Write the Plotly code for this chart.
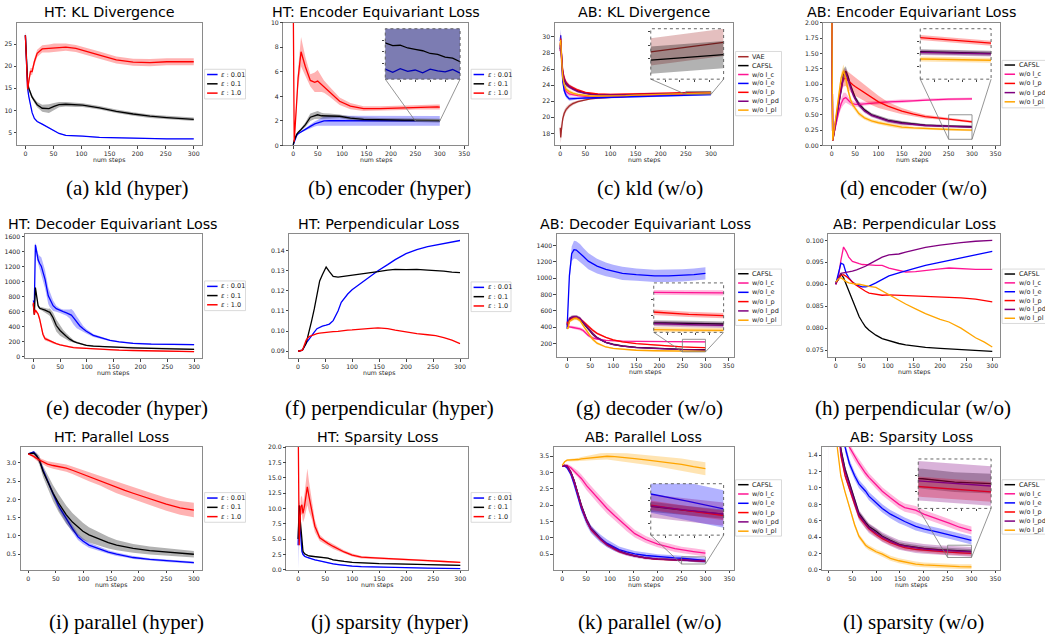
import numpy as np
import plotly.graph_objects as go

W, H = 1045, 641

# ---------------- colours ----------------
BLUE = '#0000ff'; BLACK = '#000000'; RED = '#ff0000'
PINK = '#ff1493'; PURPLE = '#800080'; ORANGE = '#ffa500'; BROWN = '#a52a2a'

# ---------------- text ----------------
TITLES = ["HT: KL Divergence", "HT: Encoder Equivariant Loss", "AB: KL Divergence", "AB: Encoder Equivariant Loss",
          "HT: Decoder Equivariant Loss", "HT: Perpendicular Loss", "AB: Decoder Equivariant Loss", "AB: Perpendicular Loss",
          "HT: Parallel Loss", "HT: Sparsity Loss", "AB: Parallel Loss", "AB: Sparsity Loss"]
CAPTIONS = ["(a) kld (hyper)", "(b) encoder (hyper)", "(c) kld (w/o)", "(d) encoder (w/o)",
            "(e) decoder (hyper)", "(f) perpendicular (hyper)", "(g) decoder (w/o)", "(h) perpendicular (w/o)",
            "(i) parallel (hyper)", "(j) sparsity (hyper)", "(k) parallel (w/o)", "(l) sparsity (w/o)"]
HT_LABELS = ["<i>ε</i> : 0.01", "<i>ε</i> : 0.1", "<i>ε</i> : 1.0"]
AB_LABELS = ["CAFSL", "w/o l_c", "w/o l_e", "w/o l_p", "w/o l_pd", "w/o l_pl"]
X_LABEL = "num steps"

# ---------------- tick labels ----------------
XT300 = [0, 50, 100, 150, 200, 250, 300]
XT350 = [0, 50, 100, 150, 200, 250, 300, 350]
A_YT = [5, 10, 15, 20, 25]
B_YT = [0, 2, 4, 6, 8, 10]
C_YT = [18, 20, 22, 24, 26, 28, 30]
D_YT = [0.0, 0.25, 0.5, 0.75, 1.0, 1.25, 1.5, 1.75, 2.0]
E_YT = [0, 200, 400, 600, 800, 1000, 1200, 1400, 1600]
F_YT = [0.09, 0.10, 0.11, 0.12, 0.13, 0.14]
G_YT = [200, 400, 600, 800, 1000, 1200, 1400]
H_YT = [0.075, 0.080, 0.085, 0.090, 0.095, 0.100]
I_YT = [0.5, 1.0, 1.5, 2.0, 2.5, 3.0]
J_YT = [0.0, 2.5, 5.0, 7.5, 10.0, 12.5, 15.0, 17.5, 20.0]
K_YT = [0.5, 1.0, 1.5, 2.0, 2.5, 3.0, 3.5]
L_YT = [0.0, 0.2, 0.4, 0.6, 0.8, 1.0, 1.2, 1.4]
INSET_XT = [260, 270, 280, 290]

# ---------------- data ----------------
# (a) HT KL divergence
A_STEPS = [0, 2, 4, 6, 9, 12, 16, 21, 30, 42, 51, 60, 72, 90, 102, 132, 162, 192, 222, 252, 300]
A_EPS001 = [27.0, 19.0, 15.0, 13.2, 11.0, 9.5, 8.2, 7.5, 6.9, 6.1, 5.4, 4.8, 4.35, 4.3, 4.2, 3.9, 3.8, 3.7, 3.65, 3.6, 3.6]
A_EPS001_SD = [0.8, 0.5, 0.3, 0.2, 0.15, 0.1, 0.1, 0.1, 0.1, 0.1, 0.1, 0.1, 0.1, 0.1, 0.1, 0.1, 0.1, 0.1, 0.1, 0.1, 0.1]
A_EPS01 = [27.0, 20.0, 16.5, 15.0, 13.9, 13.0, 12.2, 11.3, 10.5, 10.4, 10.9, 11.3, 11.4, 11.3, 11.2, 10.6, 9.8, 9.2, 8.7, 8.4, 8.0]
A_EPS01_SD = [0.8, 0.6, 0.5, 0.5, 0.5, 0.5, 0.5, 0.6, 0.8, 1.0, 0.8, 0.6, 0.5, 0.5, 0.4, 0.4, 0.4, 0.4, 0.4, 0.4, 0.4]
A_EPS1 = [27.0, 20.0, 14.8, 16.5, 18.8, 18.8, 21.0, 22.9, 23.9, 24.0, 24.1, 24.2, 24.3, 24.0, 23.6, 22.5, 21.4, 20.9, 20.8, 21.0, 21.0]
A_EPS1_SD = [1.0, 1.0, 0.8, 0.8, 0.8, 0.8, 0.8, 0.8, 0.8, 0.9, 1.0, 0.9, 0.8, 0.8, 0.8, 0.8, 0.8, 0.8, 0.8, 0.8, 0.8]

# (b) HT encoder equivariant loss
B_STEPS = [0, 2, 7, 10, 16, 20, 25, 35, 44, 50, 58, 63, 74, 95, 117, 144, 178, 228, 250, 255,
           260, 265, 270, 275, 280, 285, 290, 295, 300]
B_EPS001 = [0.05, 0.3, 0.8, 0.95, 1.1, 1.2, 1.35, 1.55, 1.75, 1.85, 1.95, 2.0, 2.02, 2.02, 2.02, 2.015, 2.012, 2.01,
            2.012, 2.005, 2.013, 2.007, 2.01, 2.004, 2.012, 2.008, 2.006, 2.011, 2.003]
B_EPS001_SD = [0, 0.05, 0.05, 0.05, 0.05, 0.08, 0.1, 0.15, 0.2, 0.25, 0.3, 0.35, 0.4, 0.4, 0.4, 0.4, 0.4, 0.4,
               0.4, 0.4, 0.4, 0.4, 0.4, 0.4, 0.4, 0.4, 0.4, 0.4, 0.4]
B_EPS01 = [0.05, 0.4, 0.9, 1.07, 1.3, 1.47, 1.7, 2.3, 2.45, 2.5, 2.42, 2.4, 2.4, 2.38, 2.22, 2.12, 2.08, 2.07,
           2.069, 2.063, 2.064, 2.058, 2.055, 2.052, 2.046, 2.044, 2.038, 2.036, 2.028]
B_EPS01_SD = [0, 0.05, 0.05, 0.08, 0.1, 0.12, 0.2, 0.3, 0.3, 0.3, 0.25, 0.22, 0.2, 0.15, 0.15, 0.15, 0.15, 0.15,
              0.15, 0.15, 0.15, 0.15, 0.15, 0.15, 0.15, 0.15, 0.15, 0.15, 0.15]
B_EPS1 = [12.0, 0.3, 3.5, 5.5, 7.64, 7.0, 6.4, 5.3, 5.15, 5.25, 4.95, 4.8, 4.4, 3.6, 3.2, 3.0, 3.0, 3.08,
          3.12, 3.13, 3.14, 3.15, 3.15, 3.16, 3.15, 3.15, 3.14, 3.14, 3.13]
B_EPS1_SD = [0, 0.2, 0.5, 0.8, 1.2, 1.0, 0.8, 0.5, 0.8, 0.9, 0.6, 0.5, 0.4, 0.3, 0.25, 0.2, 0.2, 0.2,
             0.2, 0.2, 0.2, 0.2, 0.2, 0.2, 0.2, 0.2, 0.2, 0.2, 0.2]

# (c) AB KL divergence
C_STEPS = [0, 1, 3, 5, 8, 12, 18, 25, 35, 50, 60, 75, 100, 130, 150, 200, 250, 300]
C_VAE = [18.7, 17.5, 18.8, 19.8, 20.5, 21.0, 21.4, 21.7, 21.95, 22.2, 22.3, 22.4, 22.5, 22.6, 22.65, 22.85, 23.05, 23.12]
C_CAFSL = [28.5, 29.5, 27.0, 25.5, 24.6, 24.1, 23.8, 23.6, 23.3, 23.0, 22.9, 22.8, 22.75, 22.8, 22.83, 22.9, 22.99, 23.03]
C_WO_LC = [28.2, 29.0, 26.5, 24.8, 23.8, 23.2, 22.9, 22.8, 22.7, 22.6, 22.55, 22.55, 22.55, 22.6, 22.65, 22.75, 22.85, 22.95]
C_WO_LE = [29.5, 30.2, 27.0, 24.5, 23.3, 22.7, 22.3, 22.3, 22.35, 22.4, 22.42, 22.45, 22.5, 22.55, 22.6, 22.68, 22.75, 22.82]
C_WO_LP = [28.8, 29.8, 27.5, 25.8, 24.9, 24.3, 23.9, 23.65, 23.4, 23.1, 23.0, 22.9, 22.85, 22.88, 22.92, 23.0, 23.08, 23.14]
C_WO_LPD = [28.3, 29.2, 27.3, 25.6, 24.7, 24.2, 23.8, 23.5, 23.2, 22.95, 22.85, 22.8, 22.75, 22.78, 22.82, 22.9, 22.98, 23.05]
C_WO_LPL = [29.0, 29.6, 27.0, 25.0, 24.0, 23.5, 23.2, 23.0, 22.85, 22.7, 22.65, 22.65, 22.65, 22.7, 22.75, 22.85, 22.95, 23.05]
C_SD = [0.6, 0.8, 0.6, 0.5, 0.4, 0.3, 0.25, 0.2, 0.15, 0.12, 0.1, 0.1, 0.1, 0.1, 0.1, 0.1, 0.1, 0.1]

# (d) AB encoder equivariant loss
D_STEPS = [0, 2, 5, 10, 15, 20, 25, 30, 35, 40, 45, 50, 58, 70, 85, 100, 120, 150, 175, 200, 250, 300]
D_CAFSL = [2.5, 0.08, 0.2, 0.45, 0.7, 0.95, 1.15, 1.21, 1.12, 0.98, 0.86, 0.78, 0.68, 0.58, 0.5, 0.46, 0.41, 0.37, 0.35, 0.33, 0.315, 0.305]
D_WO_LC = [2.5, 0.08, 0.2, 0.38, 0.55, 0.68, 0.76, 0.78, 0.74, 0.7, 0.68, 0.67, 0.67, 0.68, 0.69, 0.7, 0.71, 0.72, 0.73, 0.745, 0.755, 0.76]
D_WO_LP = [2.5, 0.08, 0.25, 0.5, 0.75, 0.95, 1.08, 1.1, 1.06, 1.02, 0.99, 0.96, 0.92, 0.86, 0.78, 0.71, 0.64, 0.56, 0.51, 0.47, 0.43, 0.385]
D_WO_LPD = [2.5, 0.08, 0.2, 0.45, 0.7, 0.93, 1.12, 1.18, 1.08, 0.95, 0.84, 0.76, 0.66, 0.56, 0.49, 0.45, 0.40, 0.36, 0.34, 0.325, 0.31, 0.30]
D_WO_LPL = [2.5, 0.08, 0.25, 0.55, 0.85, 1.1, 1.22, 1.1, 0.9, 0.75, 0.66, 0.6, 0.52, 0.45, 0.4, 0.37, 0.34, 0.3, 0.285, 0.275, 0.26, 0.25]
D_SD_LP = [0, 0, 0.02, 0.05, 0.08, 0.1, 0.12, 0.13, 0.14, 0.15, 0.15, 0.15, 0.15, 0.14, 0.12, 0.1, 0.07, 0.05, 0.04, 0.03, 0.02, 0.02]
D_SD = [0, 0, 0.02, 0.04, 0.06, 0.08, 0.1, 0.08, 0.06, 0.05, 0.05, 0.04, 0.04, 0.03, 0.03, 0.03, 0.03, 0.03, 0.02, 0.02, 0.02, 0.02]

# (e) HT decoder equivariant loss
E_STEPS = [0, 2, 4, 7, 9, 12, 15, 18, 22, 28, 31, 37, 43, 50, 56, 62, 68, 71, 75, 81, 87, 93, 99, 112, 130, 143,
           160, 186, 220, 248, 300]
E_EPS001 = [750, 700, 1490, 1350, 1290, 1240, 1205, 1130, 1030, 811, 760, 680, 640, 614, 600, 585, 570, 555, 520, 460,
            410, 373, 340, 285, 245, 219, 200, 180, 170, 165, 162]
E_EPS001_SD = [0, 0, 30, 60, 80, 100, 120, 120, 120, 110, 100, 70, 40, 30, 30, 40, 60, 80, 90, 80, 60, 40, 30, 20, 15,
               10, 10, 10, 10, 10, 10]
E_EPS01 = [700, 560, 920, 760, 680, 645, 640, 632, 620, 600, 592, 520, 416, 350, 307, 270, 235, 219, 205, 190, 175,
           165, 153, 143, 135, 131, 127, 120, 112, 106, 100]
E_EPS01_SD = [0, 0, 20, 20, 20, 20, 20, 20, 30, 40, 50, 70, 80, 70, 50, 40, 30, 25, 20, 15, 10, 10, 10, 10, 10, 10,
              10, 10, 10, 10, 10]
E_EPS1 = [720, 560, 620, 590, 570, 500, 400, 300, 241, 220, 210, 190, 175, 160, 150, 140, 130, 126, 123, 120, 117, 114,
          110, 105, 98, 92, 88, 84, 78, 73, 68]
E_EPS1_SD = [0, 0, 20, 20, 20, 25, 30, 30, 25, 20, 15, 15, 10, 10, 10, 10, 10, 10, 10, 10, 10, 10, 10, 10, 8, 8, 8,
             8, 8, 8, 8]

# (f) HT perpendicular loss
F_STEPS = [0, 8, 15, 20, 25, 30, 35, 40, 45, 52, 58, 65, 74, 80, 92, 100, 117, 135, 148, 166, 180, 200, 220, 240,
           255, 270, 285, 300]
F_EPS001 = [0.09, 0.0905, 0.094, 0.096, 0.098, 0.0995, 0.1012, 0.102, 0.1025, 0.103, 0.1035, 0.1052, 0.11, 0.1143,
            0.1184, 0.1205, 0.124, 0.1275, 0.130, 0.133, 0.1355, 0.1385, 0.1405, 0.142, 0.1428, 0.1437, 0.1444, 0.145]
F_EPS01 = [0.09, 0.0905, 0.094, 0.099, 0.105, 0.111, 0.118, 0.1249, 0.128, 0.1318, 0.1295, 0.1272, 0.1268, 0.127,
           0.1275, 0.128, 0.1285, 0.129, 0.1295, 0.1303, 0.1307, 0.1305, 0.1307, 0.1303, 0.1302, 0.1298, 0.1293, 0.129]
F_EPS1 = [0.09, 0.0905, 0.0955, 0.0972, 0.0978, 0.0985, 0.0988, 0.099, 0.0992, 0.0994, 0.0995, 0.0997, 0.0999,
          0.1002, 0.1005, 0.1006, 0.1011, 0.1014, 0.1016, 0.1012, 0.1005, 0.0995, 0.0988, 0.0982, 0.0978, 0.0968,
          0.0955, 0.0938]

# (g) AB decoder equivariant loss
G_STEPS = [0, 2, 5, 10, 15, 20, 28, 35, 46, 55, 65, 84, 100, 120, 150, 190, 220, 250, 275, 300]
G_CAFSL = [450, 420, 500, 520, 525, 528, 505, 450, 380, 320, 270, 215, 190, 170, 152, 140, 134, 128, 126, 124]
G_WO_LC = [410, 405, 405, 400, 395, 390, 380, 360, 300, 270, 255, 240, 234, 230, 227, 225, 223, 222, 222, 221]
G_WO_LE = [380, 600, 1030, 1300, 1351, 1345, 1311, 1270, 1210, 1180, 1150, 1109, 1085, 1060, 1045, 1030, 1030, 1035, 1045, 1060]
G_WO_LP = [470, 420, 480, 510, 520, 515, 500, 470, 410, 365, 325, 275, 245, 220, 198, 180, 170, 160, 154, 150]
G_WO_LPD = [440, 410, 510, 525, 530, 530, 510, 460, 385, 325, 272, 215, 188, 168, 150, 138, 131, 125, 122, 120]
G_WO_LPL = [400, 380, 470, 490, 505, 510, 480, 420, 330, 255, 205, 158, 140, 128, 118, 112, 109, 106, 105, 104]
G_SD_LE = [0, 30, 60, 90, 110, 110, 110, 105, 100, 95, 90, 85, 80, 80, 75, 75, 75, 75, 75, 75]
G_SD = [10, 10, 15, 20, 20, 20, 20, 20, 20, 20, 15, 10, 10, 8, 8, 8, 8, 8, 8, 8]

# (h) AB perpendicular loss
H_STEPS = [0, 5, 10, 15, 20, 25, 32, 40, 45, 51, 57, 64, 77, 89, 102, 121, 134, 153, 172, 200, 217, 240, 268, 285, 300]
H_CAFSL = [0.0905, 0.091, 0.0923, 0.0915, 0.0900, 0.0885, 0.0863, 0.0838, 0.0826, 0.0814, 0.0803, 0.0795, 0.0784,
           0.0776, 0.0771, 0.0765, 0.0762, 0.0759, 0.0756, 0.0754, 0.0753, 0.0751, 0.0749, 0.0748, 0.0747]
H_WO_LC = [0.0900, 0.0915, 0.0955, 0.0985, 0.0975, 0.0962, 0.0952, 0.0948, 0.0947, 0.0945, 0.0944, 0.0944, 0.0943,
           0.0943, 0.0937, 0.0932, 0.0928, 0.0929, 0.0932, 0.0935, 0.0937, 0.0935, 0.0934, 0.0934, 0.0934]
H_WO_LE = [0.0900, 0.0925, 0.0948, 0.0945, 0.0925, 0.0915, 0.0905, 0.0898, 0.0896, 0.0894, 0.0894, 0.0896, 0.0903,
           0.0911, 0.0919, 0.0926, 0.0931, 0.0937, 0.0943, 0.0950, 0.0955, 0.0961, 0.0967, 0.0971, 0.0975]
H_WO_LP = [0.0900, 0.0912, 0.0920, 0.0922, 0.0918, 0.0912, 0.0905, 0.0897, 0.0893, 0.0888, 0.0884, 0.0880, 0.0877,
           0.0875, 0.0876, 0.0875, 0.0874, 0.0874, 0.0873, 0.0872, 0.0871, 0.0869, 0.0866, 0.0863, 0.0860]
H_WO_LPD = [0.0900, 0.0915, 0.0925, 0.0926, 0.0927, 0.0928, 0.0930, 0.0933, 0.0935, 0.0938, 0.0941, 0.0946, 0.0955,
            0.0962, 0.0967, 0.0969, 0.0973, 0.0979, 0.0984, 0.0989, 0.0992, 0.0995, 0.0998, 0.0999, 0.1000]
H_WO_LPL = [0.0905, 0.0912, 0.0915, 0.0910, 0.0906, 0.0903, 0.0901, 0.0900, 0.0900, 0.0898, 0.0897, 0.0895, 0.0893,
            0.0885, 0.0875, 0.0863, 0.0855, 0.0844, 0.0833, 0.0820, 0.0814, 0.0800, 0.0778, 0.0768, 0.0757]

# (i) HT parallel loss
I_STEPS = [0, 5, 10, 15, 20, 27, 35, 45, 55, 69, 80, 90, 99, 110, 130, 145, 160, 175, 190, 220, 250, 275, 300]
I_EPS001 = [3.25, 3.28, 3.3, 3.2, 3.08, 2.8, 2.5, 2.15, 1.82, 1.45, 1.2, 0.98, 0.86, 0.75, 0.635, 0.56, 0.5, 0.455,
            0.41, 0.36, 0.32, 0.29, 0.27]
I_EPS001_SD = [0.01, 0.02, 0.03, 0.04, 0.05, 0.06, 0.07, 0.08, 0.1, 0.1, 0.1, 0.09, 0.08, 0.07, 0.06, 0.05, 0.05,
               0.04, 0.04, 0.03, 0.03, 0.03, 0.03]
I_EPS01 = [3.25, 3.26, 3.27, 3.2, 3.08, 2.76, 2.48, 2.17, 1.9, 1.58, 1.38, 1.25, 1.13, 1.03, 0.906, 0.82, 0.75, 0.7,
           0.66, 0.6, 0.56, 0.53, 0.5]
I_EPS01_SD = [0.02, 0.03, 0.05, 0.08, 0.12, 0.15, 0.18, 0.22, 0.24, 0.25, 0.25, 0.24, 0.23, 0.21, 0.18, 0.16, 0.14,
              0.13, 0.12, 0.11, 0.1, 0.1, 0.09]
I_EPS1 = [3.25, 3.22, 3.18, 3.12, 3.08, 3.02, 2.97, 2.93, 2.9, 2.86, 2.8, 2.74, 2.7, 2.63, 2.52, 2.42, 2.33, 2.25,
          2.17, 2.02, 1.87, 1.77, 1.71]
I_EPS1_SD = [0.02, 0.03, 0.04, 0.05, 0.06, 0.07, 0.08, 0.09, 0.1, 0.1, 0.1, 0.11, 0.12, 0.13, 0.14, 0.15, 0.16, 0.16,
             0.17, 0.17, 0.18, 0.19, 0.2]

# (j) HT sparsity loss
J_STEPS = [0, 1, 2, 3, 5, 7, 9, 12, 17, 20, 25, 31, 40, 50, 55, 65, 74, 85, 100, 117, 150, 179, 200, 240, 270, 300]
J_EPS001 = [4, 6, 10.4, 8, 4.5, 3, 2.5, 2.2, 2.0, 1.9, 1.75, 1.6, 1.45, 1.2, 1.1, 0.95, 0.85, 0.72, 0.6, 0.5, 0.4,
            0.35, 0.3, 0.25, 0.22, 0.2]
J_EPS001_SD = [4, 2, 1, 1, 0.5, 0.3, 0.2, 0.15, 0.1, 0.1, 0.1, 0.1, 0.1, 0.1, 0.1, 0.1, 0.1, 0.1, 0.1, 0.1, 0.05,
               0.05, 0.05, 0.05, 0.05, 0.05]
J_EPS01 = [5, 7, 10.5, 9, 6.5, 4, 3, 2.6, 2.35, 2.25, 2.2, 2.15, 2.1, 2.0, 1.9, 1.6, 1.45, 1.35, 1.2, 1.1, 1.0, 0.95,
           0.9, 0.82, 0.76, 0.7]
J_EPS01_SD = [1, 1, 1, 1, 0.5, 0.3, 0.2, 0.15, 0.1, 0.1, 0.1, 0.1, 0.1, 0.1, 0.1, 0.1, 0.1, 0.1, 0.1, 0.1, 0.1, 0.1,
              0.1, 0.1, 0.1, 0.1]
J_EPS1 = [25, 12, 4, 7, 10.3, 10.6, 9.2, 10.5, 13.5, 12, 9.8, 7.1, 5.2, 4.5, 4.3, 3.8, 3.4, 2.9, 2.4, 2.05, 1.9, 1.8,
          1.7, 1.5, 1.35, 1.2]
J_EPS1_SD = [0, 2, 1, 1.5, 1.5, 1.5, 1.5, 2, 3, 2.5, 1.5, 1, 0.5, 0.4, 0.4, 0.4, 0.35, 0.3, 0.25, 0.2, 0.15, 0.15,
             0.12, 0.12, 0.12, 0.1]

# (k) AB parallel loss
K_STEPS = [0, 5, 10, 18, 25, 33, 40, 51, 60, 69, 80, 94, 110, 119, 135, 152, 175, 200, 236, 250, 275, 300]
K_CAFSL = [3.2, 3.22, 3.2, 3.02, 2.75, 2.37, 2.0, 1.56, 1.3, 1.16, 0.98, 0.8, 0.66, 0.6, 0.52, 0.45, 0.39, 0.35,
           0.33, 0.323, 0.305, 0.29]
K_WO_LC = [3.2, 3.22, 3.22, 3.15, 3.05, 2.95, 2.82, 2.6, 2.45, 2.3, 2.12, 1.9, 1.68, 1.56, 1.33, 1.13, 0.95, 0.81,
           0.67, 0.63, 0.58, 0.53]
K_WO_LE = [3.2, 3.2, 3.15, 2.95, 2.65, 2.25, 1.9, 1.5, 1.27, 1.13, 0.98, 0.83, 0.7, 0.64, 0.57, 0.51, 0.46, 0.42,
           0.385, 0.376, 0.345, 0.312]
K_WO_LP = [3.2, 3.22, 3.2, 3.0, 2.72, 2.33, 1.96, 1.52, 1.26, 1.12, 0.95, 0.78, 0.64, 0.58, 0.5, 0.44, 0.38, 0.345,
           0.332, 0.328, 0.305, 0.284]
K_WO_LPD = [3.2, 3.22, 3.2, 3.01, 2.74, 2.35, 1.98, 1.54, 1.28, 1.14, 0.97, 0.79, 0.65, 0.59, 0.51, 0.445, 0.385,
            0.348, 0.33, 0.325, 0.307, 0.29]
K_WO_LPL = [3.22, 3.33, 3.38, 3.38, 3.38, 3.4, 3.42, 3.44, 3.46, 3.47, 3.49, 3.5, 3.49, 3.48, 3.46, 3.43, 3.39, 3.35,
            3.28, 3.25, 3.18, 3.12]
K_SD = [0.01, 0.02, 0.03, 0.04, 0.05, 0.05, 0.05, 0.05, 0.04, 0.04, 0.03, 0.03, 0.03, 0.02, 0.02, 0.02, 0.02, 0.02,
        0.02, 0.02, 0.02, 0.02]
K_SD_LC = [0.02, 0.03, 0.04, 0.06, 0.08, 0.1, 0.12, 0.14, 0.15, 0.15, 0.15, 0.15, 0.15, 0.14, 0.13, 0.12, 0.11, 0.1,
           0.1, 0.1, 0.1, 0.1]
K_SD_LE = [0.02, 0.03, 0.05, 0.07, 0.08, 0.1, 0.11, 0.12, 0.12, 0.12, 0.12, 0.12, 0.11, 0.1, 0.1, 0.09, 0.09, 0.08,
           0.08, 0.08, 0.08, 0.08]
K_SD_LPD = [0.02, 0.03, 0.05, 0.07, 0.08, 0.09, 0.1, 0.1, 0.1, 0.09, 0.08, 0.07, 0.06, 0.06, 0.06, 0.05, 0.05, 0.05,
            0.05, 0.05, 0.05, 0.05]
K_SD_LPL = [0.01, 0.02, 0.03, 0.04, 0.05, 0.05, 0.06, 0.07, 0.08, 0.09, 0.1, 0.1, 0.11, 0.12, 0.13, 0.14, 0.15, 0.16,
            0.17, 0.18, 0.19, 0.2]

# (l) AB sparsity loss
L_STEPS = [0, 1, 10, 19, 26, 35, 44, 55, 64, 78, 85, 100, 113, 130, 148, 160, 183, 200, 230, 253, 275, 300]
L_CAFSL = [6, 5, 3.0, 2.0, 1.48, 1.23, 1.06, 0.85, 0.69, 0.58, 0.53, 0.47, 0.41, 0.36, 0.31, 0.295, 0.27, 0.26,
           0.245, 0.24, 0.23, 0.225]
L_WO_LC = [6, 5, 3.8, 2.8, 2.2, 1.8, 1.5, 1.38, 1.3, 1.18, 1.13, 1.04, 0.96, 0.88, 0.8, 0.76, 0.73, 0.68, 0.62, 0.57,
           0.52, 0.48]
L_WO_LE = [6, 5, 3.5, 2.4, 1.9, 1.5, 1.3, 1.15, 1.05, 0.96, 0.9, 0.82, 0.75, 0.68, 0.62, 0.59, 0.53, 0.5, 0.46, 0.43,
           0.4, 0.36]
L_WO_LP = [6, 5, 2.9, 1.9, 1.4, 1.15, 0.98, 0.8, 0.65, 0.54, 0.5, 0.43, 0.38, 0.33, 0.29, 0.27, 0.25, 0.24, 0.223,
           0.215, 0.207, 0.2]
L_WO_LPD = [6, 8, 3.0, 2.0, 1.45, 1.2, 1.03, 0.83, 0.67, 0.56, 0.51, 0.45, 0.40, 0.35, 0.305, 0.29, 0.265, 0.255,
            0.24, 0.233, 0.225, 0.218]
L_WO_LPL = [6, 5, 2.5, 1.48, 1.15, 0.95, 0.77, 0.55, 0.41, 0.3, 0.27, 0.22, 0.19, 0.14, 0.11, 0.095, 0.07, 0.06,
            0.048, 0.042, 0.038, 0.036]
L_SD = [0.05, 0.05, 0.04, 0.03, 0.03, 0.03, 0.03, 0.03, 0.03, 0.03, 0.03, 0.03, 0.03, 0.03, 0.03, 0.03, 0.03, 0.03,
        0.03, 0.03, 0.03, 0.03]
L_SD_LC = [0.1, 0.1, 0.08, 0.07, 0.06, 0.06, 0.05, 0.05, 0.05, 0.05, 0.05, 0.05, 0.05, 0.05, 0.05, 0.05, 0.05, 0.05,
           0.05, 0.05, 0.05, 0.05]
L_SD_LPD = [6, 0.2, 0.1, 0.08, 0.07, 0.07, 0.07, 0.07, 0.06, 0.06, 0.06, 0.06, 0.06, 0.06, 0.06, 0.06, 0.06, 0.06,
            0.06, 0.06, 0.06, 0.06]

# ---------------- helpers ----------------
fig = go.Figure()
layout_axes = {}
shapes = []
annotations = []
AXES = []
FONT = 'DejaVu Sans'


def rgba(hexc, a):
    h = hexc.lstrip('#')
    return 'rgba(%d,%d,%d,%s)' % (int(h[0:2], 16), int(h[2:4], 16), int(h[4:6], 16), a)


def px(x):
    return x / W


def py(y):
    return 1 - y / H


def axis_common(rng, tv, tt, labels):
    return dict(range=rng, showgrid=False, zeroline=False, showline=True, mirror=True,
                linecolor='#8a8a8a', linewidth=0.9, ticks='outside', ticklen=2.5, tickwidth=0.8,
                tickcolor='#444', tickmode='array', tickvals=tv, ticktext=tt, showticklabels=labels,
                tickfont=dict(family=FONT, size=6.2, color='#262626'), fixedrange=True,
                layer='above traces')


def make_axes(box, xr, yr, xtv, xtt, ytv, ytt, inset=False):
    n = len(AXES) + 1
    s = '' if n == 1 else str(n)
    l, t, r, b = box
    xa = axis_common(xr, xtv, xtt, not inset)
    ya = axis_common(yr, ytv, ytt, not inset)
    xa.update(domain=[px(l), px(r)], anchor='y' + s)
    ya.update(domain=[py(b), py(t)], anchor='x' + s)
    if inset:
        for a in (xa, ya):
            a.update(showline=False, mirror=False, ticklen=2)
    layout_axes['xaxis' + s] = xa
    layout_axes['yaxis' + s] = ya
    info = dict(x='x' + s, y='y' + s, box=box, xr=xr, yr=yr)
    AXES.append(info)
    return info


def to_paper(ax, x, y):
    l, t, r, b = ax['box']
    x0, x1 = ax['xr']
    y0, y1 = ax['yr']
    X = l + (x - x0) / (x1 - x0) * (r - l)
    Y = b - (y - y0) / (y1 - y0) * (b - t)
    return px(X), py(Y)


def add_series(ax, steps, vals, color, sd=None):
    s = np.asarray(steps, float)
    v = np.asarray(vals, float)
    if sd is not None:
        d = np.broadcast_to(np.asarray(sd, float), v.shape)
        fig.add_trace(go.Scatter(x=np.concatenate([s, s[::-1]]), y=np.concatenate([v + d, (v - d)[::-1]]),
                                 fill='toself', fillcolor=rgba(color, 0.3), line=dict(width=0), mode='lines',
                                 hoverinfo='skip', showlegend=False, xaxis=ax['x'], yaxis=ax['y']))
    fig.add_trace(go.Scatter(x=s, y=v, mode='lines', line=dict(color=color, width=1.3),
                             hoverinfo='skip', showlegend=False, xaxis=ax['x'], yaxis=ax['y']))


def panel(box, xr, yr, xtv, ytv, yfmt, title, series):
    ax = make_axes(box, xr, yr, xtv, [str(v) for v in xtv], ytv, [format(v, yfmt) for v in ytv])
    for steps, vals, color, sd in series:
        add_series(ax, steps, vals, color, sd)
    l, t, r, b = box
    annotations.append(dict(text=title, x=px((l + r) / 2), y=py(t - 10.5), xref='paper', yref='paper',
                            xanchor='center', yanchor='middle', showarrow=False, borderpad=0,
                            font=dict(family=FONT, size=14.3, color='black')))
    annotations.append(dict(text=X_LABEL, x=px((l + r) / 2), y=py(b + 15), xref='paper', yref='paper',
                            xanchor='center', yanchor='middle', showarrow=False,
                            font=dict(family=FONT, size=6.2, color='#262626')))
    return ax


def inset(main, box, yr, ytv, series):
    xr = [250, 300]
    ax = make_axes(box, xr, yr, INSET_XT, ['' for _ in INSET_XT], ytv, ['' for _ in ytv], inset=True)
    for steps, vals, color, sd in series:
        add_series(ax, steps, vals, color, sd)
    l, t, r, b = box
    # indicator rectangle on the parent axes
    shapes.append(dict(type='rect', xref=main['x'], yref=main['y'], x0=xr[0], x1=xr[1], y0=yr[0], y1=yr[1],
                       line=dict(color='#7a7a7a', width=0.8), layer='above'))
    # connectors (lower-left / lower-right corners)
    for cx, ix in ((xr[0], l), (xr[1], r)):
        qx, qy = to_paper(main, cx, yr[0])
        shapes.append(dict(type='line', xref='paper', yref='paper', x0=px(ix), y0=py(b), x1=qx, y1=qy,
                           line=dict(color='#7a7a7a', width=0.8), layer='above'))
    shapes.append(dict(type='rect', xref='paper', yref='paper', x0=px(l), x1=px(r), y0=py(b), y1=py(t),
                       line=dict(color='#555555', width=0.9, dash='dot'), layer='above'))
    return ax


def legend(geom, labels, colors):
    l, t, r, b, y0, dy = geom
    shapes.append(dict(type='rect', xref='paper', yref='paper', x0=px(l), x1=px(r), y0=py(b), y1=py(t),
                       line=dict(color='#d0d0d0', width=0.8), fillcolor='rgba(255,255,255,0.85)', layer='above'))
    for i, (lab, col) in enumerate(zip(labels, colors)):
        yy = y0 + i * dy
        shapes.append(dict(type='line', xref='paper', yref='paper', x0=px(l + 2.5), x1=px(l + 13),
                           y0=py(yy), y1=py(yy), line=dict(color=col, width=1.5), layer='above'))
        annotations.append(dict(text=lab, x=px(l + 14.5), y=py(yy), xref='paper', yref='paper',
                                xanchor='left', yanchor='middle', showarrow=False,
                                font=dict(family=FONT, size=6.5, color='#1a1a1a')))


def caption(text, cx, cy):
    annotations.append(dict(text=text, x=px(cx), y=py(cy), xref='paper', yref='paper', xanchor='center',
                            yanchor='middle', showarrow=False,
                            font=dict(family='Liberation Serif', size=21, color='black')))


HT_COLORS = [BLUE, BLACK, RED]
AB_COLORS = [BLACK, PINK, BLUE, RED, PURPLE, ORANGE]

# ---------------- row 1 ----------------
axA = panel((17, 19, 202, 143), [-15, 314], [2.1, 29.8], XT300, A_YT, 'd', TITLES[0], [
    (A_STEPS, A_EPS001, BLUE, A_EPS001_SD), (A_STEPS, A_EPS01, BLACK, A_EPS01_SD), (A_STEPS, A_EPS1, RED, A_EPS1_SD)])
legend((205, 66, 246, 96, 71.3, 9.4), HT_LABELS, HT_COLORS)

B_SER = [(B_STEPS, B_EPS001, BLUE, B_EPS001_SD), (B_STEPS, B_EPS01, BLACK, B_EPS01_SD), (B_STEPS, B_EPS1, RED, B_EPS1_SD)]
axB = panel((284, 19, 469, 143), [-20, 358], [0, 10], XT350, B_YT, 'd', TITLES[1], B_SER)
legend((472, 66, 512, 96, 71.3, 9.4), HT_LABELS, HT_COLORS)

C_SER = [(C_STEPS, C_VAE, BROWN, C_SD), (C_STEPS, C_CAFSL, BLACK, C_SD), (C_STEPS, C_WO_LC, PINK, C_SD),
         (C_STEPS, C_WO_LE, BLUE, C_SD), (C_STEPS, C_WO_LP, RED, C_SD), (C_STEPS, C_WO_LPD, PURPLE, C_SD),
         (C_STEPS, C_WO_LPL, ORANGE, C_SD)]
axC = panel((556, 19, 734, 143), [-10.5, 343], [16.5, 31.76], XT300, C_YT, 'd', TITLES[2], C_SER)
legend((737, 48, 783, 113, 53.3, 9.0), ["VAE"] + AB_LABELS, [BROWN] + AB_COLORS)

D_SER = [(D_STEPS, D_CAFSL, BLACK, D_SD), (D_STEPS, D_WO_LC, PINK, D_SD), (D_STEPS, D_WO_LP, RED, D_SD_LP),
         (D_STEPS, D_WO_LPD, PURPLE, D_SD), (D_STEPS, D_WO_LPL, ORANGE, D_SD)]
axD = panel((825, 19, 1002, 143), [-17.8, 360], [0, 2], XT350, D_YT, '.2f', TITLES[3], D_SER)
legend((1004, 57, 1075, 105, 61.7, 9.3), [AB_LABELS[i] for i in (0, 1, 3, 4, 5)],
       [AB_COLORS[i] for i in (0, 1, 3, 4, 5)])

# ---------------- row 2 ----------------
axE = panel((25, 233, 202, 358), [-15.5, 314], [-17, 1627], XT300, E_YT, 'd', TITLES[4], [
    (E_STEPS, E_EPS001, BLUE, E_EPS001_SD), (E_STEPS, E_EPS01, BLACK, E_EPS01_SD), (E_STEPS, E_EPS1, RED, E_EPS1_SD)])
legend((205, 280, 246, 310, 285.5, 9.3), HT_LABELS, HT_COLORS)

axF = panel((290, 233, 469, 358), [-16, 315], [0.0866, 0.148], XT300, F_YT, '.2f', TITLES[5], [
    (F_STEPS, F_EPS001, BLUE, None), (F_STEPS, F_EPS01, BLACK, None), (F_STEPS, F_EPS1, RED, None)])
legend((472, 281, 512, 311, 286.5, 9.4), HT_LABELS, HT_COLORS)

G_SER = [(G_STEPS, G_CAFSL, BLACK, G_SD), (G_STEPS, G_WO_LC, PINK, G_SD), (G_STEPS, G_WO_LE, BLUE, G_SD_LE),
         (G_STEPS, G_WO_LP, RED, G_SD), (G_STEPS, G_WO_LPD, PURPLE, G_SD), (G_STEPS, G_WO_LPL, ORANGE, G_SD)]
axG = panel((558, 233, 735, 357), [-22, 361], [34, 1537], XT350, G_YT, 'd', TITLES[6], G_SER)
legend((737, 268, 783, 325, 272.7, 9.4), AB_LABELS, AB_COLORS)

axH = panel((830, 233, 1002, 357), [-14, 315], [0.0734, 0.10135], XT300, H_YT, '.3f', TITLES[7], [
    (H_STEPS, H_CAFSL, BLACK, None), (H_STEPS, H_WO_LC, PINK, None), (H_STEPS, H_WO_LE, BLUE, None),
    (H_STEPS, H_WO_LP, RED, None), (H_STEPS, H_WO_LPD, PURPLE, None), (H_STEPS, H_WO_LPL, ORANGE, None)])
legend((1004, 268, 1075, 323, 273, 8.95), AB_LABELS, AB_COLORS)

# ---------------- row 3 ----------------
axI = panel((21, 448, 202, 572), [-13.2, 314], [0.075, 3.434], XT300, I_YT, '.1f', TITLES[8], [
    (I_STEPS, I_EPS001, BLUE, I_EPS001_SD), (I_STEPS, I_EPS01, BLACK, I_EPS01_SD), (I_STEPS, I_EPS1, RED, I_EPS1_SD)])
legend((205, 494, 246, 524, 499.5, 9.4), HT_LABELS, HT_COLORS)

axJ = panel((287, 448, 469, 572), [-21.6, 314.5], [0, 20], XT300, J_YT, '.1f', TITLES[9], [
    (J_STEPS, J_EPS001, BLUE, J_EPS001_SD), (J_STEPS, J_EPS01, BLACK, J_EPS01_SD), (J_STEPS, J_EPS1, RED, J_EPS1_SD)])
legend((472, 494, 512, 524, 499.5, 9.4), HT_LABELS, HT_COLORS)

K_SER = [(K_STEPS, K_CAFSL, BLACK, K_SD), (K_STEPS, K_WO_LC, PINK, K_SD_LC), (K_STEPS, K_WO_LE, BLUE, K_SD_LE),
         (K_STEPS, K_WO_LP, RED, K_SD), (K_STEPS, K_WO_LPD, PURPLE, K_SD_LPD), (K_STEPS, K_WO_LPL, ORANGE, K_SD_LPL)]
axK = panel((555, 448, 735, 572), [-17.4, 359], [0.024, 3.78], XT350, K_YT, '.1f', TITLES[10], K_SER)
legend((737, 481, 783, 538, 486, 9.4), AB_LABELS, AB_COLORS)

L_SER = [(L_STEPS, L_CAFSL, BLACK, L_SD), (L_STEPS, L_WO_LC, PINK, L_SD_LC), (L_STEPS, L_WO_LE, BLUE, L_SD_LC),
         (L_STEPS, L_WO_LP, RED, L_SD), (L_STEPS, L_WO_LPD, PURPLE, L_SD_LPD), (L_STEPS, L_WO_LPL, ORANGE, L_SD)]
axL = panel((824, 448, 1002, 572), [-12.5, 360], [0, 1.5], XT350, L_YT, '.1f', TITLES[11], L_SER)
legend((1004, 481, 1075, 536, 486, 9.2), AB_LABELS, AB_COLORS)

# ---------------- insets ----------------
inset(axB, (386, 25, 461, 76), [1.99, 2.10], [2.025, 2.05, 2.075], B_SER)
inset(axC, (652, 25, 725, 76), [22.85, 23.22], [23.0, 23.1, 23.2], C_SER[:2])
inset(axD, (922, 25, 993, 76), [0.1, 0.5], [0.2, 0.3, 0.4], D_SER)
inset(axG, (655, 282, 725, 332), [98, 252], [150, 200], G_SER)
inset(axK, (652, 485, 725, 537), [0.2, 0.42], [0.25, 0.3, 0.35, 0.4], K_SER)
inset(axL, (920, 460, 993, 510), [0.15, 0.30], [0.2, 0.25], L_SER)

# ---------------- captions ----------------
COL_CX = [127, 390, 651, 915]
ROW_CY = [186, 408, 625]
for i, cap in enumerate(CAPTIONS):
    caption(cap, COL_CX[i % 4], ROW_CY[i // 4])

fig.update_layout(**layout_axes)
fig.update_layout(width=W, height=H, margin=dict(l=0, r=0, t=0, b=0, pad=0), showlegend=False,
                  paper_bgcolor='white', plot_bgcolor='white', shapes=shapes, annotations=annotations,
                  hovermode=False)
fig.write_html("out.html")
